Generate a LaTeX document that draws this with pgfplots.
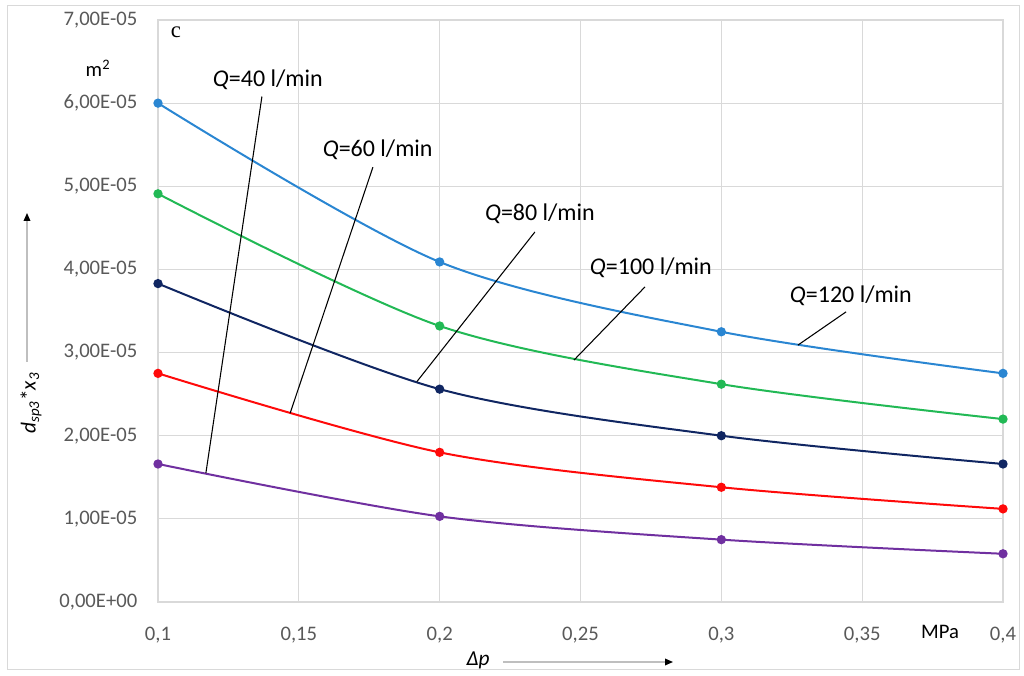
\documentclass[border=0pt]{standalone}
\usepackage{pgfplots}
\pgfplotsset{compat=1.18}
\usepackage{fontspec}
\setmainfont{Carlito}
\newfontfamily\seriffont{Liberation Serif}
\usetikzlibrary{arrows.meta}
\definecolor{cblue}{RGB}{42,134,210}
\definecolor{cgreen}{RGB}{34,185,85}
\definecolor{cnavy}{RGB}{16,38,98}
\definecolor{cred}{RGB}{255,10,10}
\definecolor{cpurple}{RGB}{112,48,160}
\definecolor{tickgray}{RGB}{89,89,89}
\definecolor{gridgray}{RGB}{217,217,217}
\begin{document}
\begin{tikzpicture}[x=0.75pt,y=0.75pt]
\useasboundingbox (0,0) rectangle (1024,675);
\draw[gridgray,line width=0.75pt] (7,6) rectangle (1019,669);
\begin{axis}[
  at={(118.5pt,54.75pt)}, anchor=south west,
  scale only axis, width=633.75pt, height=436.5pt,
  xmin=0.1, xmax=0.4, ymin=0, ymax=7e-5,
  xtick={0.1,0.15,0.2,0.25,0.3,0.35,0.4},
  xticklabels={{0,1},{0,15},{0,2},{0,25},{0,3},{0,35},{0,4}},
  ytick={0,1e-5,2e-5,3e-5,4e-5,5e-5,6e-5,7e-5},
  yticklabels={{0,00E+00},{1,00E-05},{2,00E-05},{3,00E-05},{4,00E-05},{5,00E-05},{6,00E-05},{7,00E-05}},
  scaled y ticks=false,
  grid=major, major grid style={gridgray, line width=0.9pt},
  axis line style={gridgray, line width=0.9pt},
  major tick length=0pt,
  ticklabel style={font=\fontsize{15.5}{18}\selectfont, text=tickgray},
  xticklabel style={yshift=-15pt},
  yticklabel style={xshift=-12pt},
  clip=false,
  every axis plot/.append style={smooth, line width=1.5pt, mark=*, mark size=2.7pt},
]
\addplot[cblue, mark options={fill=cblue}] coordinates {(0.1,6.00e-5) (0.2,4.09e-5) (0.3,3.25e-5) (0.4,2.75e-5)};
\addplot[cgreen, mark options={fill=cgreen}] coordinates {(0.1,4.91e-5) (0.2,3.32e-5) (0.3,2.62e-5) (0.4,2.20e-5)};
\addplot[cnavy, mark options={fill=cnavy}] coordinates {(0.1,3.83e-5) (0.2,2.56e-5) (0.3,2.00e-5) (0.4,1.66e-5)};
\addplot[cred, mark options={fill=cred}] coordinates {(0.1,2.75e-5) (0.2,1.80e-5) (0.3,1.38e-5) (0.4,1.12e-5)};
\addplot[cpurple, mark options={fill=cpurple}] coordinates {(0.1,1.66e-5) (0.2,1.03e-5) (0.3,0.75e-5) (0.4,0.58e-5)};
% annotation leader lines
\draw[black, line width=0.8pt] (axis cs:0.1369,6.08e-5) -- (axis cs:0.1170,1.55e-5);
\draw[black, line width=0.8pt] (axis cs:0.1763,5.23e-5) -- (axis cs:0.1469,2.27e-5);
\draw[black, line width=0.8pt] (axis cs:0.2338,4.45e-5) -- (axis cs:0.1919,2.65e-5);
\draw[black, line width=0.8pt] (axis cs:0.2729,3.79e-5) -- (axis cs:0.2477,2.91e-5);
\draw[black, line width=0.8pt] (axis cs:0.3443,3.49e-5) -- (axis cs:0.3272,3.09e-5);
\tikzset{qlab/.style={font=\fontsize{18}{21}\selectfont, inner sep=1pt}}
\node[qlab] at (axis cs:0.1390,6.28e-5) {\textit{Q}=40 l/min};
\node[qlab] at (axis cs:0.1780,5.44e-5) {\textit{Q}=60 l/min};
\node[qlab] at (axis cs:0.2356,4.67e-5) {\textit{Q}=80 l/min};
\node[qlab] at (axis cs:0.2750,4.02e-5) {\textit{Q}=100 l/min};
\node[qlab] at (axis cs:0.3460,3.68e-5) {\textit{Q}=120 l/min};
\end{axis}
\node[font=\seriffont\fontsize{17}{20}\selectfont] at (176,643) {c};
\node[font=\fontsize{15.5}{18}\selectfont] at (98,607) {m\textsuperscript{2}};
\node[font=\fontsize{15.5}{18}\selectfont] at (940,43) {MPa};
\node[font=\fontsize{16}{18}\selectfont, rotate=90] at (31,272) {\textit{d}\textsubscript{\textit{sp3}}*\textit{x}\textsubscript{\textit{3}}};
\draw[gray!50, line width=0.9pt, -{Triangle[length=6pt,width=5pt,fill=black,color=black]}] (27,313) -- (27,462);
\node[font=\fontsize{16}{18}\selectfont] at (478,15) {\textit{Δp}};
\draw[gray!50, line width=0.9pt, -{Triangle[length=6pt,width=5pt,fill=black,color=black]}] (503,13) -- (673,13);
\end{tikzpicture}
\end{document}
